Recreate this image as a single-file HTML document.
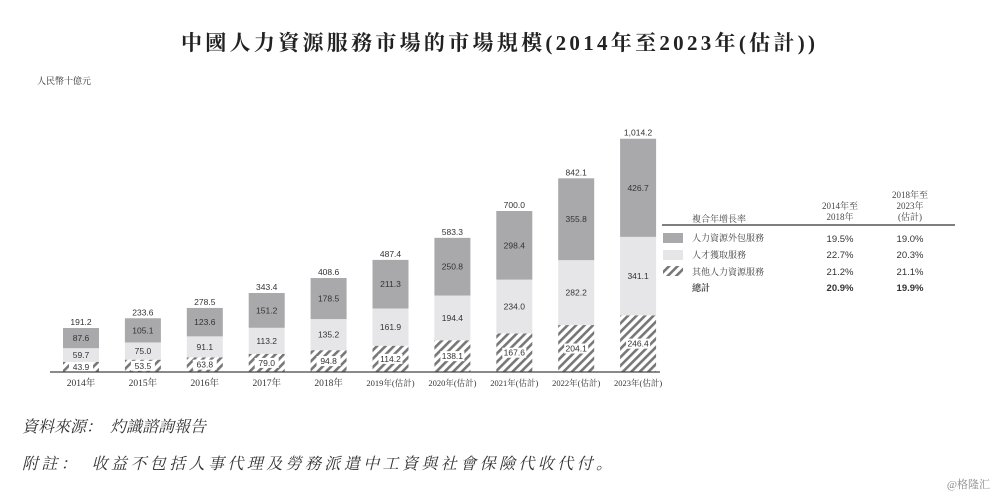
<!DOCTYPE html>
<html><head><meta charset="utf-8"><style>
body{margin:0;background:#fff;}
svg{display:block;}
text{font-family:"Liberation Serif","Noto Serif CJK SC",serif;}
.n{font-family:"Liberation Sans",sans-serif;font-size:8.5px;fill:#333;text-anchor:middle;}
.p{font-family:"Liberation Sans",sans-serif;font-size:9.5px;fill:#333;text-anchor:middle;}
</style></head><body>
<svg width="1000" height="497" viewBox="0 0 1000 497">
<defs>
<pattern id="h" width="6" height="6" patternUnits="userSpaceOnUse" patternTransform="rotate(45)">
<rect width="6" height="6" fill="#fff"/><rect width="2.6" height="6" fill="#777"/>
</pattern>
</defs>
<text x="181" y="50" textLength="634" lengthAdjust="spacing" font-size="21" font-weight="bold" fill="#222">中國人力資源服務市場的市場規模(2014年至2023年(估計))</text>
<text x="37" y="84" font-size="9" fill="#333">人民幣十億元</text>
<g id="bars"></g>
<line x1="50" y1="372" x2="660" y2="372" stroke="#444" stroke-width="1.2"/>
<line x1="662" y1="225" x2="955" y2="225" stroke="#333" stroke-width="1.2"/>
<g font-size="9" fill="#444">
<text x="692" y="222">複合年增長率</text>
<text x="840" y="209" text-anchor="middle">2014年至</text>
<text x="840" y="220" text-anchor="middle">2018年</text>
<text x="910" y="198" text-anchor="middle">2018年至</text>
<text x="910" y="209" text-anchor="middle">2023年</text>
<text x="910" y="220" text-anchor="middle">(估計)</text>
<text x="692" y="241">人力資源外包服務</text>
<text x="692" y="258">人才獲取服務</text>
<text x="692" y="275">其他人力資源服務</text>
<text x="692" y="291" font-weight="bold">總計</text>
</g>
<rect x="663" y="233" width="20" height="10" fill="#a9a9ab"/>
<rect x="663" y="250" width="20" height="10" fill="#e6e6e8"/>
<rect x="663" y="266" width="20" height="10" fill="url(#h)"/>
<text class="p" x="840" y="242">19.5%</text><text class="p" x="910" y="242">19.0%</text>
<text class="p" x="840" y="258">22.7%</text><text class="p" x="910" y="258">20.3%</text>
<text class="p" x="840" y="275">21.2%</text><text class="p" x="910" y="275">21.1%</text>
<text class="p" x="840" y="291" font-weight="bold">20.9%</text><text class="p" x="910" y="291" font-weight="bold">19.9%</text>
<text x="22" y="432" font-size="16" font-style="italic" fill="#333">資料來源：　灼識諮詢報告</text>
<text x="22" y="469" font-size="16" font-style="italic" fill="#333" textLength="590" lengthAdjust="spacing">附註：　收益不包括人事代理及勞務派遣中工資與社會保險代收代付。</text>
<text x="990" y="488" text-anchor="end" font-size="11" fill="#888">@格隆汇</text>
</svg>
<script>
var d=[["2014年",43.9,59.7,87.6,191.2],["2015年",53.5,75.0,105.1,233.6],["2016年",63.8,91.1,123.6,278.5],["2017年",79.0,113.2,151.2,343.4],["2018年",94.8,135.2,178.5,408.6],["2019年(估計)",114.2,161.9,211.3,487.4],["2020年(估計)",138.1,194.4,250.8,583.3],["2021年(估計)",167.6,234.0,298.4,700.0],["2022年(估計)",204.1,282.2,355.8,842.1],["2023年(估計)",246.4,341.1,426.7,1014.2]];
var s="",k=0.23,B=372,w=36;
d.forEach(function(r,i){var c=81+i*61.9,x=c-w/2;
var h1=r[1]*k,h2=r[2]*k,h3=r[3]*k;
var y1=B-h1,y2=y1-h2,y3=y2-h3;
s+='<rect x="'+x+'" y="'+y1+'" width="'+w+'" height="'+h1+'" fill="url(#h)"/>';
s+='<rect x="'+x+'" y="'+y2+'" width="'+w+'" height="'+h2+'" fill="#e6e6e8"/>';
s+='<rect x="'+x+'" y="'+y3+'" width="'+w+'" height="'+h3+'" fill="#a9a9ab"/>';
var ly=y1+h1/2+3;
s+='<rect x="'+(c-12)+'" y="'+(ly-8)+'" width="24" height="10" fill="#fff"/>';
s+='<text class="n" x="'+c+'" y="'+ly+'">'+r[1].toFixed(1)+'</text>';
s+='<text class="n" x="'+c+'" y="'+(y2+h2/2+3)+'">'+r[2].toFixed(1)+'</text>';
s+='<text class="n" x="'+c+'" y="'+(y3+h3/2+3)+'">'+r[3].toFixed(1)+'</text>';
s+='<text class="n" x="'+c+'" y="'+(y3-3)+'">'+(r[4]>=1000?'1,014.2':r[4].toFixed(1))+'</text>';
s+='<text x="'+c+'" y="386" text-anchor="middle" font-size="'+(r[0].length>5?8.5:9.5)+'" fill="#333">'+r[0]+'</text>';
});
document.getElementById("bars").innerHTML=s;
</script>
</body></html>
